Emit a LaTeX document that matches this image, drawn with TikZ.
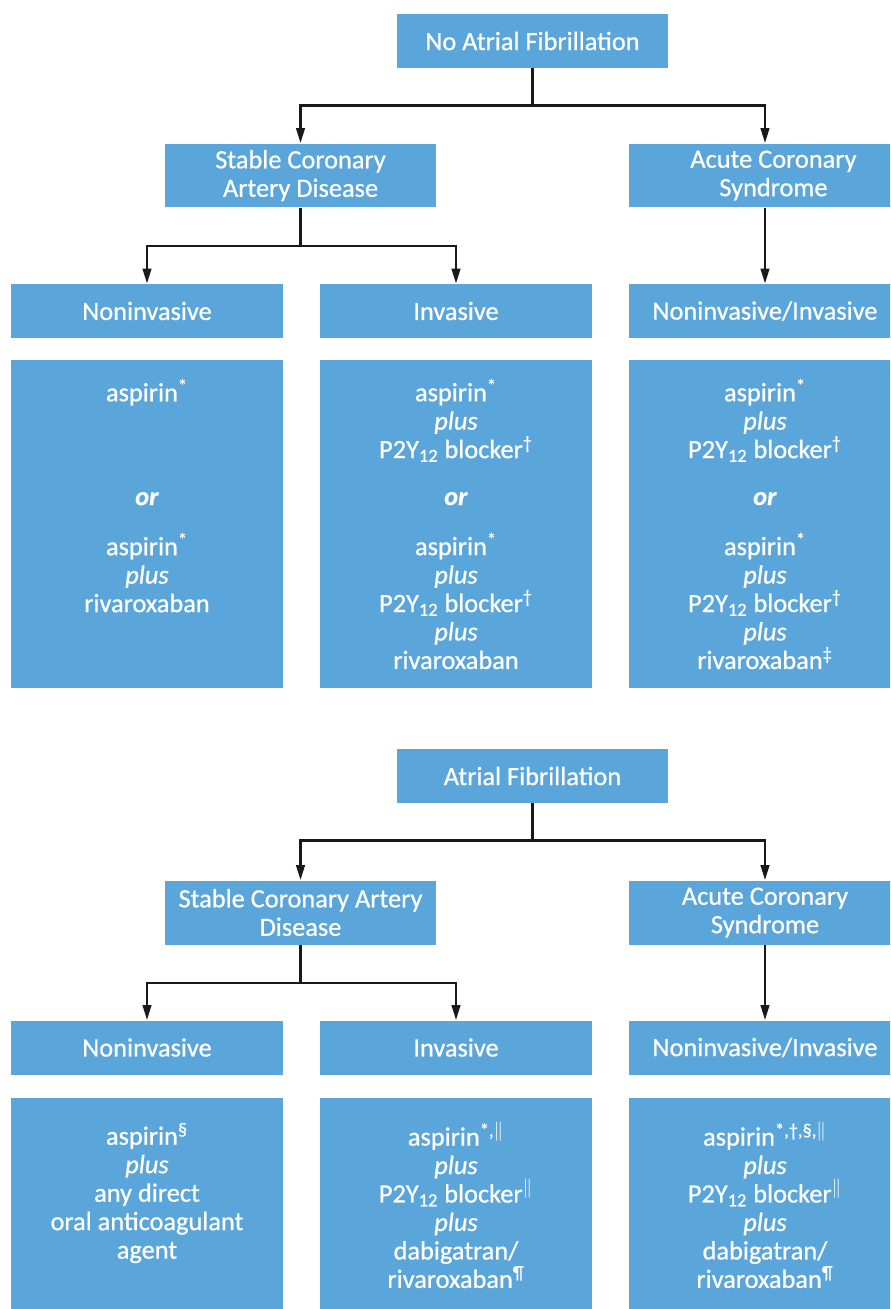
\documentclass[tikz,border=0pt]{standalone}
\usepackage{fontspec}
\setmainfont{Carlito}[FakeBold=0.7]
\usetikzlibrary{positioning,arrows.meta,calc}
\definecolor{boxblue}{HTML}{5AA5DA}
\newcommand{\dbar}{$\Vert$}

\begin{document}
\begin{tikzpicture}[x=0.02cm,y=-0.02cm,>={Triangle[length=3mm,width=1.7mm]},
  box/.style={fill=boxblue,text=white,align=center,minimum width=5.44cm,inner sep=0pt,
    font=\fontsize{15}{16.2}\selectfont},
  head/.style={box,minimum height=1.08cm},
  headtwo/.style={box,minimum height=1.28cm},
  link/.style={->,line width=1.4pt,black!90}]
  \useasboundingbox (0,0) rectangle (890,1309);
  \clip (0,0) rectangle (890,1309);
  % no atrial fibrillation
  \node[head] (naf) at (532.5,41) {No Atrial Fibrillation};
  \node[headtwo] (scad) at (300.5,175.5) {Stable Coronary\\Artery Disease};
  \node[headtwo] (acs) at (765,175.5) {\hspace*{24\pgflinewidth}Acute Coronary\\\hspace*{24\pgflinewidth}Syndrome};
  \node[head] (ni) at (147,311) {Noninvasive};
  \node[head] (inv) at (456,311) {Invasive};
  \node[head] (nii) at (765,311) {Noninvasive/Invasive};
  \draw[link] (naf.south) -- ++(0,37) -| (scad.north);
  \draw[link] (naf.south) -- ++(0,37) -| (acs.north);
  \draw[link] (scad.south) -- ++(0,38) -| (ni.north);
  \draw[link] (scad.south) -- ++(0,38) -| (inv.north);
  \draw[link] (acs) -- (nii);
  % therapy boxes
  \node[box,minimum height=6.56cm] (ni-rx) at (147,524) {aspirin\textsuperscript{*}\\ \mbox{}\\ \mbox{}\\[10.5pt]
    \textbf{\textit{or}}\\[12.3pt] aspirin\textsuperscript{*}\\ \textit{plus}\\ rivaroxaban\\ \mbox{}\\ \mbox{}};
  \node[box,minimum height=6.56cm] (inv-rx) at (456,524) {aspirin\textsuperscript{*}\\ \textit{plus}\\
    P2Y\textsubscript{12} blocker\textsuperscript{†}\\[10.5pt] \textbf{\textit{or}}\\[12.3pt]
    aspirin\textsuperscript{*}\\ \textit{plus}\\ P2Y\textsubscript{12} blocker\textsuperscript{†}\\ \textit{plus}\\ rivaroxaban};
  \node[box,minimum height=6.56cm] (nii-rx) at (765,524) {aspirin\textsuperscript{*}\\ \textit{plus}\\
    P2Y\textsubscript{12} blocker\textsuperscript{†}\\[10.5pt] \textbf{\textit{or}}\\[12.3pt]
    aspirin\textsuperscript{*}\\ \textit{plus}\\ P2Y\textsubscript{12} blocker\textsuperscript{†}\\ \textit{plus}\\ rivaroxaban\textsuperscript{‡}};

  % atrial fibrillation
  \node[head] (af) at (532.5,776) {Atrial Fibrillation};
  \node[headtwo] (af-scad) at (300.5,912.5) {Stable Coronary Artery\\Disease};
  \node[headtwo] (af-acs) at (765,912.5) {Acute Coronary\\Syndrome};
  \node[head] (af-ni) at (147,1047.5) {Noninvasive};
  \node[head] (af-inv) at (456,1047.5) {Invasive};
  \node[head] (af-nii) at (765,1047.5) {Noninvasive/Invasive};
  \draw[link] (af.south) -- ++(0,37) -| (af-scad.north);
  \draw[link] (af.south) -- ++(0,37) -| (af-acs.north);
  \draw[link] (af-scad.south) -- ++(0,38) -| (af-ni.north);
  \draw[link] (af-scad.south) -- ++(0,38) -| (af-inv.north);
  \draw[link] (af-acs) -- (af-nii);
  % therapy boxes
  \node[box,minimum height=4.28cm] (af-ni-rx) at (147,1205) {aspirin\textsuperscript{§}\\ \textit{plus}\\
    any direct\\ oral anticoagulant\\ agent\\ \mbox{}};
  \node[box,minimum height=4.28cm] (af-inv-rx) at (456,1205) {aspirin\textsuperscript{*,\dbar}\\ \textit{plus}\\
    P2Y\textsubscript{12} blocker\textsuperscript{\dbar}\\ \textit{plus}\\ dabigatran/\\ rivaroxaban\textsuperscript{¶}};
  \node[box,minimum height=4.28cm] (af-nii-rx) at (765,1205) {aspirin\textsuperscript{*,†,§,\dbar}\\ \textit{plus}\\
    P2Y\textsubscript{12} blocker\textsuperscript{\dbar}\\ \textit{plus}\\ dabigatran/\\ rivaroxaban\textsuperscript{¶}};
\end{tikzpicture}
\end{document}
